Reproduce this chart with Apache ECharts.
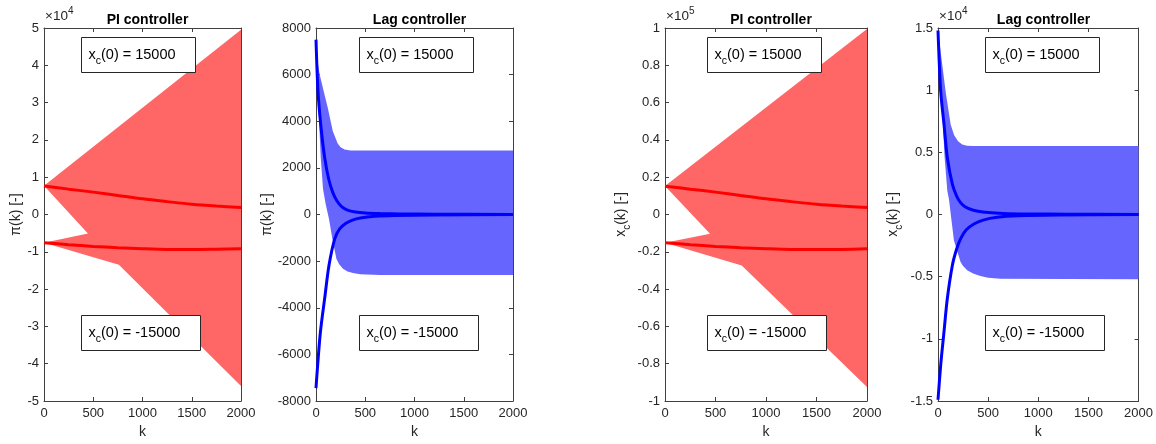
<!DOCTYPE html>
<html><head><meta charset="utf-8">
<script src="https://cdn.jsdelivr.net/npm/echarts@6/dist/echarts.min.js"></script>
<style>html,body{margin:0;padding:0;background:#fff;}#c{width:1156px;height:444px;}</style>
</head><body><div id="c"></div>
<script>
// ---------- DATA ----------
const kTicks = [0, 500, 1000, 1500, 2000];
const panelTitles = ['PI controller', 'Lag controller', 'PI controller', 'Lag controller'];
const annotTop = 'x_c(0) = 15000';
const annotBottom = 'x_c(0) = -15000';

// Panel 1: PI controller, pi(k)
const p1Band = [[0,7700],[2000,49500],[2000,-46000],[760,-13500],[0,-7550],[446,-5100],[0,7700]];
const p1Upper = [[0,7650],[250,6800],[500,6000],[750,5100],[1000,4200],[1250,3450],[1500,2750],[1750,2250],[2000,1850]];
const p1Lower = [[0,-7550],[250,-8100],[500,-8550],[750,-8900],[1000,-9150],[1250,-9350],[1500,-9400],[1750,-9300],[2000,-9150]];

// Panel 2: Lag controller, pi(k)
const p2Band = [[0,7500],[10,6700],[38,6000],[80,5250],[120,4570],[170,3580],[220,3050],[250,2880],[290,2790],[350,2750],[2000,2750],
  [2000,-2600],[650,-2590],[450,-2560],[376,-2510],[320,-2440],[274,-2330],[235,-2130],[207,-1900],[166,-1045],[132,-190],[98,450],[71,1100],[48,2440],[25,4600],[0,7500]];
const p2Upper = [[0,7500],[20,5300],[48,3860],[88,2440],[130,1500],[170,950],[210,600],[260,340],[320,190],[400,110],[500,65],[650,40],[850,25],[1200,15],[2000,5]];
const p2Lower = [[0,-7450],[17,-6450],[45,-5030],[88,-3600],[132,-2180],[190,-1045],[240,-620],[300,-390],[370,-240],[450,-150],[600,-80],[800,-45],[1200,-20],[2000,-5]];

// Panel 3: PI controller, x_c(k)
const p3Band = [[0,15300],[2000,99500],[2000,-92500],[760,-27300],[0,-15100],[446,-10300],[0,15300]];
const p3Upper = [[0,15200],[250,13600],[500,12000],[750,10200],[1000,8400],[1250,6900],[1500,5500],[1750,4500],[2000,3700]];
const p3Lower = [[0,-15100],[250,-16200],[500,-17100],[750,-17800],[1000,-18300],[1250,-18700],[1500,-18800],[1750,-18700],[2000,-18400]];

// Panel 4: Lag controller, x_c(k)
const p4Band = [[0,14800],[34,12580],[76,9900],[126,7240],[160,6400],[200,5900],[242,5640],[290,5530],[350,5500],[2000,5500],
  [2000,-5200],[622,-5160],[500,-5080],[423,-4950],[350,-4750],[291,-4490],[250,-4150],[225,-3820],[159,-2100],[133,-360],[109,1240],[93,1900],[66,4580],[48,7400],[26,10300],[0,14800]];
const p4Upper = [[0,14800],[27,9900],[60,7240],[93,4580],[143,2440],[185,1500],[225,950],[270,620],[330,400],[400,260],[500,160],[650,90],[900,50],[1300,25],[2000,10]];
const p4Lower = [[0,-14900],[27,-12100],[60,-9420],[93,-6760],[143,-4100],[185,-2800],[225,-1960],[280,-1250],[358,-760],[450,-450],[589,-230],[800,-110],[1200,-45],[2000,-10]];

// y-axis ranges [min, max, interval, scale exponent]
const yRanges = [[-50000,50000,10000,4],[-8000,8000,2000,0],[-100000,100000,20000,5],[-15000,15000,5000,4]];

// ---------- STYLE / LAYOUT ----------
const FF = '"Liberation Sans", Arial, Helvetica, sans-serif';
const AX = '#404040', TXT = '#262626';
const grids = [
  {left:44, top:28, width:197, height:375},
  {left:316, top:28, width:197, height:375},
  {left:665, top:28, width:202, height:375},
  {left:938, top:28, width:201, height:375}
];
const yNameGaps = [10, 35, 33, 34];
const annotLeft = [81, 359, 707, 985];
const bands = [p1Band, p2Band, p3Band, p4Band];
const uppers = [p1Upper, p2Upper, p3Upper, p4Upper];
const lowers = [p1Lower, p2Lower, p3Lower, p4Lower];
const fillColors = ['#ff6666', '#6666ff', '#ff6666', '#6666ff'];
const lineColors = ['#ff0000', '#0000ff', '#ff0000', '#0000ff'];
const yNames = ['π(k) [-]', 'π(k) [-]', '{n|x}{s|c}{n|(k) [-]}', '{n|x}{s|c}{n|(k) [-]}'];

const xAxis = [], yAxis = [], series = [], title = [], graphic = [];
const tickCommon = {inside:true, length:4, lineStyle:{color:AX, width:1}};
const lineCommon = {show:true, onZero:false, lineStyle:{color:AX, width:1}};

grids.forEach((g, i) => {
  const [ymin, ymax, yint, ex] = yRanges[i];
  xAxis.push({gridIndex:i, type:'value', min:kTicks[0], max:kTicks[kTicks.length-1], interval:kTicks[1]-kTicks[0], position:'bottom',
    axisLine:lineCommon, axisTick:tickCommon, splitLine:{show:false},
    axisLabel:{color:TXT, fontSize:13, fontFamily:FF, margin:6, showMinLabel:true, showMaxLabel:true, formatter:v => String(v)},
    name:'k', nameLocation:'middle', nameGap:24, nameTextStyle:{color:TXT, fontSize:14, fontFamily:FF}});
  xAxis.push({gridIndex:i, type:'value', min:kTicks[0], max:kTicks[kTicks.length-1], interval:kTicks[1]-kTicks[0], position:'top',
    axisLine:lineCommon, axisTick:tickCommon, splitLine:{show:false}, axisLabel:{show:false}});
  const fmt = v => ex === 0 ? String(v) : String(parseFloat((v / Math.pow(10, ex)).toFixed(1)));
  yAxis.push({gridIndex:i, type:'value', min:ymin, max:ymax, interval:yint, position:'left',
    axisLine:lineCommon, axisTick:tickCommon, splitLine:{show:false},
    axisLabel:{color:TXT, fontSize:13, fontFamily:FF, margin:5, formatter:fmt, showMinLabel:true, showMaxLabel:true},
    name:yNames[i], nameLocation:'middle', nameRotate:90, nameGap:yNameGaps[i],
    nameTextStyle:{color:TXT, fontSize:14, fontFamily:FF,
      rich:{n:{color:TXT, fontSize:14, fontFamily:FF}, s:{color:TXT, fontSize:10, fontFamily:FF, padding:[12,0,0,0]}}}});
  yAxis.push({gridIndex:i, type:'value', min:ymin, max:ymax, interval:yint, position:'right',
    axisLine:lineCommon, axisTick:tickCommon, splitLine:{show:false}, axisLabel:{show:false}});

  const band = bands[i], col = fillColors[i];
  series.push({type:'custom', xAxisIndex:2*i, yAxisIndex:2*i, data:band, silent:true, z:1,
    renderItem:(params, api) => {
      if (params.dataIndex !== 0) return null;
      return {type:'polygon', shape:{points: band.map(p => api.coord(p))}, style:{fill:col}};
    }});
  [uppers[i], lowers[i]].forEach(d => series.push({type:'line', xAxisIndex:2*i, yAxisIndex:2*i, data:d,
    showSymbol:false, symbol:'none', smooth:0.3, z:3, silent:true,
    lineStyle:{color:lineColors[i], width:3}}));

  title.push({text:panelTitles[i], left:g.left + g.width/2, top:8, textAlign:'center',
    textStyle:{color:'#000', fontSize:14, fontWeight:'bold', fontFamily:FF}});

  // annotation boxes
  [[37, annotTop, 114], [315, annotBottom, 119]].forEach(([by, txt, w]) => {
    const bx = annotLeft[i] + 0.5;
    const parts = txt.split('_');
    const rest = parts[1].slice(1);
    graphic.push({type:'rect', z:10, shape:{x:bx, y:by + 0.5, width:w, height:35},
      style:{fill:'#fff', stroke:'#262626', lineWidth:1}});
    graphic.push({type:'text', z:11, style:{x:bx + 7, y:by + 18, verticalAlign:'middle', align:'left',
      text:'{n|' + parts[0] + '}{s|' + parts[1][0] + '}{n|' + rest + '}',
      rich:{n:{fill:'#000', fontSize:14.5, fontFamily:FF}, s:{fill:'#000', fontSize:10.5, fontFamily:FF, padding:[12,0,0,0]}}}});
  });
  // exponent labels
  if (ex !== 0) {
    graphic.push({type:'text', z:11, style:{x:g.left + 1, y:16, verticalAlign:'middle', align:'left',
      text:'{a|×10}{b|' + ex + '}',
      rich:{a:{fill:TXT, fontSize:13.5, fontFamily:FF}, b:{fill:TXT, fontSize:10, fontFamily:FF, padding:[0,0,9,0]}}}});
  }
});

const chart = echarts.init(document.getElementById('c'), null, {renderer:'canvas'});
chart.setOption({animation:false, backgroundColor:'#fff', grid:grids, xAxis, yAxis, series, title, graphic});
</script></body></html>
